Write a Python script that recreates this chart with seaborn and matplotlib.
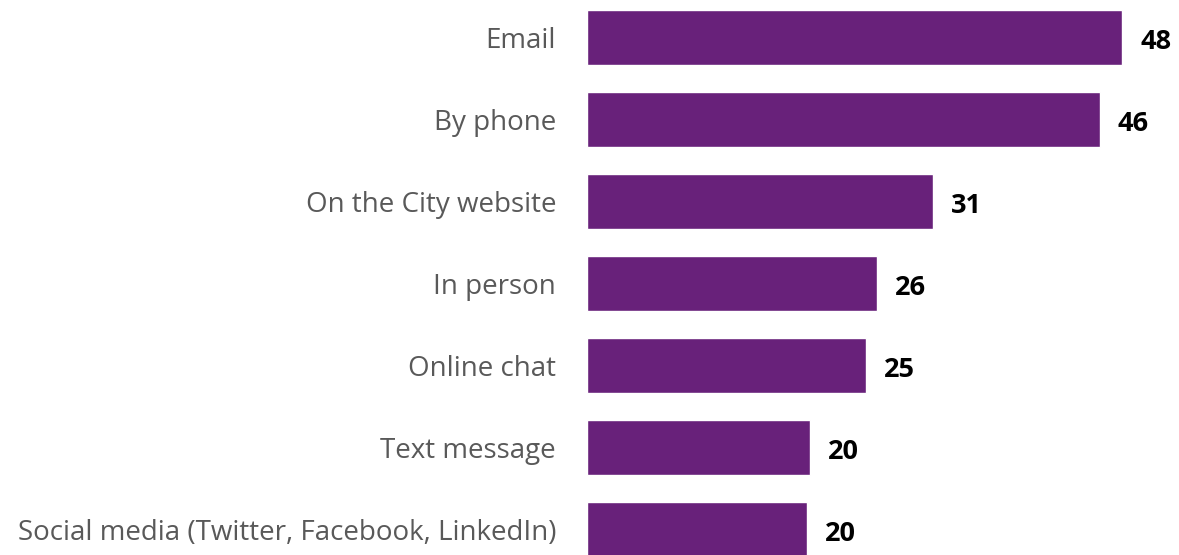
import matplotlib
matplotlib.use("Agg")
import matplotlib.pyplot as plt
import seaborn as sns
import pandas as pd

# chart data
channels = [
    "Email",
    "By phone",
    "On the City website",
    "In person",
    "Online chat",
    "Text message",
    "Social media (Twitter, Facebook, LinkedIn)",
]
values = [48, 46, 31, 26, 25, 20, 19.7]

df = pd.DataFrame({"channel": channels, "value": values})

sns.set_theme(style="white")
plt.rcParams["font.family"] = ["Open Sans", "DejaVu Sans"]

W, H = 1179, 555
fig = plt.figure(figsize=(W / 100, H / 100), dpi=100)

# axes placed in pixel terms: bars start at x=587, band of 82 px per category
left, right = 587, 1179
top, bottom = -3.5, 570.5
ax = fig.add_axes([left / W, 1 - bottom / H, (right - left) / W, (bottom - top) / H])

sns.barplot(data=df, x="value", y="channel", color="#68217a", width=0.67,
            saturation=1, ax=ax, orient="h")

ax.set_xlim(0, (right - left) / 11.15)
ax.set_xlabel("")
ax.set_ylabel("")
ax.set_xticks([])
sns.despine(ax=ax, left=True, bottom=True)
ax.tick_params(axis="y", length=0, pad=22.3, labelsize=20, labelcolor="#595959")

for i, v in enumerate(values):
    ax.text(v + 1.6, i + 0.06, f"{v:.0f}", va="center", ha="left", fontsize=19.5,
            fontweight="bold", color="black")

fig.savefig("out.png", dpi=100)
